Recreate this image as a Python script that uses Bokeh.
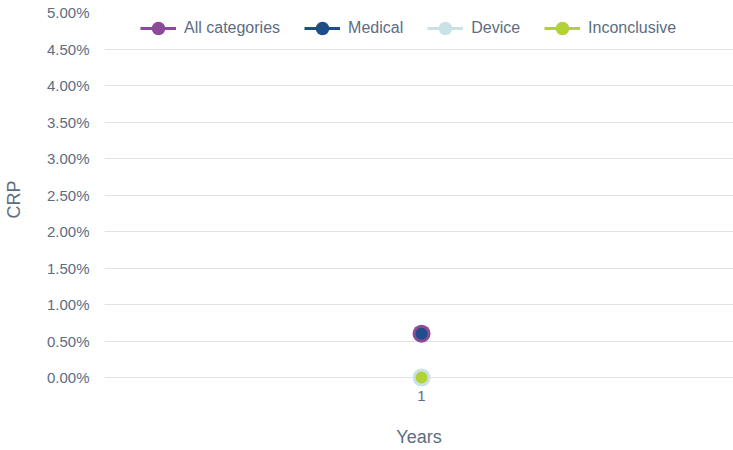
from bokeh.plotting import figure
from bokeh.models import (ColumnDataSource, Range1d, FixedTicker, NumeralTickFormatter,
                          Legend, LegendItem)
from bokeh.embed import file_html
from bokeh.resources import INLINE

# ---- data ----
years = [1]
year_labels = ["1"]
all_categories = [0.006]
medical = [0.006]
device = [0.0]
inconclusive = [0.0]
y_ticks = [0.0, 0.005, 0.01, 0.015, 0.02, 0.025, 0.03, 0.035, 0.04, 0.045, 0.05]

series = [
    ("All categories", all_categories, "#8B4A9A", 18),
    ("Medical", medical, "#1F4C8A", 12),
    ("Device", device, "#C9E2E5", 18),
    ("Inconclusive", inconclusive, "#B3D236", 12),
]

FONT = "Liberation Sans"
TXT = "#5d6d7f"

p = figure(width=733, height=450, output_backend="svg", toolbar_location=None,
           x_range=Range1d(0.5, 1.492), y_range=Range1d(-0.00123, 0.05),
           min_border_left=104, min_border_right=0, min_border_top=12, min_border_bottom=64)
p.outline_line_color = None
p.background_fill_color = "white"
p.border_fill_color = "white"

items = []
for name, vals, color, size in series:
    src = ColumnDataSource(dict(x=years, y=vals))
    ln = p.line("x", "y", source=src, line_color=color, line_width=3)
    sc = p.scatter("x", "y", source=src, size=size, fill_color=color, line_color=None)
    items.append(LegendItem(label=name, renderers=[ln, sc]))

# axes
p.xaxis.ticker = FixedTicker(ticks=years)
p.xaxis.major_label_overrides = {y: l for y, l in zip(years, year_labels)}
p.xaxis.axis_label = "Years"
p.yaxis.ticker = FixedTicker(ticks=y_ticks)
p.yaxis.formatter = NumeralTickFormatter(format="0.00%")
p.yaxis.axis_label = "CRP"
for ax in (p.xaxis[0], p.yaxis[0]):
    ax.axis_line_color = None
    ax.major_tick_line_color = None
    ax.minor_tick_line_color = None
    ax.major_tick_out = 0
    ax.major_tick_in = 0
    ax.major_label_text_font = FONT
    ax.major_label_text_font_size = "15px"
    ax.major_label_text_color = TXT
    ax.axis_label_text_font = FONT
    ax.axis_label_text_font_size = "18px"
    ax.axis_label_text_color = TXT
    ax.axis_label_text_font_style = "normal"
p.xaxis.major_label_standoff = 4
p.xaxis.axis_label_standoff = 23
p.yaxis.major_label_standoff = 15
p.yaxis.axis_label_standoff = 20

p.xgrid.grid_line_color = None
p.ygrid.grid_line_color = "#e3e3e3"
p.ygrid.grid_line_width = 1

legend = Legend(items=items, orientation="horizontal", location=(36, 341),
                glyph_width=36, glyph_height=34, label_standoff=8, spacing=24,
                padding=0, margin=0, border_line_color=None,
                background_fill_alpha=0,
                label_text_font=FONT, label_text_font_size="16px",
                label_text_color=TXT)
p.add_layout(legend, "center")

open("out.html", "w").write(file_html(p, INLINE))
